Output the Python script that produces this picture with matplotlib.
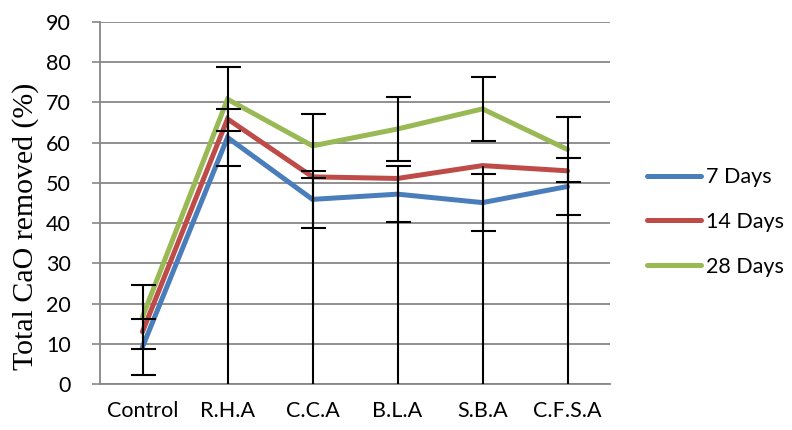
import matplotlib
matplotlib.use("Agg")
import matplotlib.pyplot as plt
import numpy as np

categories = ["Control", "R.H.A", "C.C.A", "B.L.A", "S.B.A", "C.F.S.A"]
series_names = ["7 Days", "14 Days", "28 Days"]
days7 = [9.2, 61.3, 45.9, 47.2, 45.1, 49.1]
days14 = [13.0, 65.9, 51.5, 51.1, 54.3, 53.0]
days28 = [16.7, 70.8, 59.2, 63.4, 68.4, 58.3]
err7 = [7, 7, 7, 7, 7, 7]
err14_minus = [0, 65.9, 51.5, 51.1, 54.3, 53.0]
err28 = [8, 8, 8, 8, 8, 8]
yticks = [0, 10, 20, 30, 40, 50, 60, 70, 80, 90]

colors = ["#4A7EBB", "#BE4B48", "#98B954"]
grid_c = "#878787"

plt.rcParams['font.family'] = ['Lato', 'DejaVu Sans']

fig = plt.figure(figsize=(7.92, 4.30), dpi=100)
ax = fig.add_axes([100/792, 1-384/430, 510/792, 362/430])

x = np.arange(len(categories))
lines = []
for vals, c, name in zip([days7, days14, days28], colors, series_names):
    ln, = ax.plot(x, vals, color=c, lw=3.6, solid_capstyle='round',
                  solid_joinstyle='miter', label=name, zorder=3)
    lines.append(ln)

ekw = dict(fmt='none', ecolor='black', elinewidth=1.5, capthick=1.5, zorder=5)
ax.errorbar(x, days7, yerr=err7, capsize=9, **ekw)
ax.errorbar(x, days28, yerr=err28, capsize=9, **ekw)
ax.errorbar(x, days14, yerr=[err14_minus, np.zeros(len(x))], capsize=0, **ekw)

ax.set_xlim(-0.5, len(categories) - 0.5)
ax.set_ylim(0, 90)
ax.set_yticks(yticks)
ax.set_xticks(x)
ax.set_xticklabels(categories, fontsize=15.5)
ax.tick_params(axis='x', length=0, pad=12)
ax.tick_params(axis='y', length=6, width=1.2, color=grid_c, pad=15, labelsize=15.5)
ax.yaxis.grid(True, color=grid_c, lw=1.3)
ax.set_axisbelow(True)
for s in ['top', 'right']:
    ax.spines[s].set_visible(False)
for s in ['left', 'bottom']:
    ax.spines[s].set_color(grid_c)
    ax.spines[s].set_linewidth(1.3)

ax.set_ylabel("Total CaO removed (%)", family=['Liberation Serif', 'DejaVu Serif'],
              fontsize=21.5)
ax.yaxis.set_label_coords((39 - 100)/510, 0.435)

fig.legend(handles=lines, labels=series_names, loc='center left',
           bbox_to_anchor=(647/792, 1-222/430), frameon=False, fontsize=15.5,
           handlelength=2.5, handletextpad=0.25, labelspacing=1.15,
           borderpad=0, borderaxespad=0)

fig.savefig("out.png", dpi=100)
